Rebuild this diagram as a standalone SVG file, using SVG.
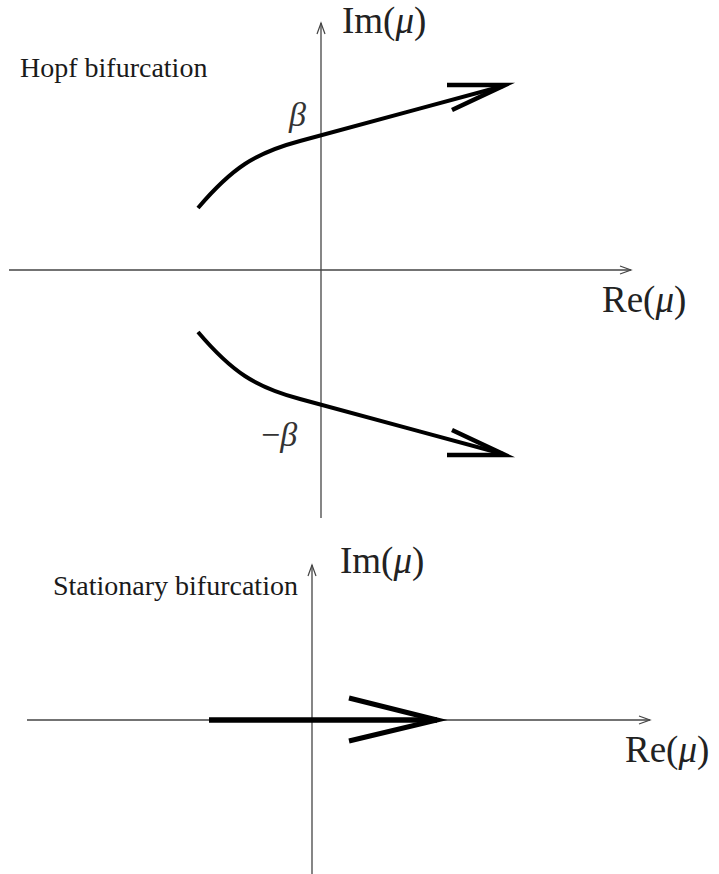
<svg xmlns="http://www.w3.org/2000/svg" width="719" height="874" viewBox="0 0 719 874">
<style>
.axis{stroke:#444;stroke-width:1.3;fill:none}
.curve{stroke:#000;stroke-width:4;fill:none;stroke-linecap:butt}
.head{stroke:#000;stroke-width:4.5;fill:none;stroke-linejoin:miter;stroke-miterlimit:10}
text{font-family:'Liberation Serif','Times New Roman','DejaVu Serif',serif}
.lbl{fill:#1a1a1a}
.math{fill:#222;font-size:37px}
.greek{fill:#333;font-size:34px;font-style:italic}
</style>
<defs>
<marker id="ax" markerWidth="14" markerHeight="10" refX="12" refY="5" orient="auto" markerUnits="userSpaceOnUse">
<polyline points="1,1 12,5 1,9" fill="none" stroke="#444" stroke-width="1.2"/>
</marker>
</defs>
<g id="connectors">
<line class="axis" x1="321" y1="518" x2="321" y2="23" marker-end="url(#ax)"/>
<line class="axis" x1="9" y1="270" x2="631" y2="270" marker-end="url(#ax)"/>
<line class="axis" x1="312" y1="874" x2="312" y2="565" marker-end="url(#ax)"/>
<line class="axis" x1="27" y1="720" x2="650" y2="720" marker-end="url(#ax)"/>
<path class="curve" d="M198,208 C232,168 255,153 300,141 S440,103 503,86"/>
<polyline class="head" points="447,85 505,85 452,110"/>
<path class="curve" d="M198,332 C232,372 255,387 300,399 S440,437 503,454"/>
<polyline class="head" points="447,455 505,455 452,430"/>
<line x1="209" y1="720" x2="437" y2="720" stroke="#000" stroke-width="5.5"/>
<polyline points="349,698 437,720 349,741" fill="none" stroke="#000" stroke-width="5" stroke-linejoin="miter" stroke-miterlimit="10"/>
</g>
<g id="hopf-title"><text class="lbl" x="20" y="77" font-size="28" font-family="Liberation Serif, serif">Hopf bifurcation</text></g>
<g id="im-top"><text class="math" x="342" y="33" font-family="Liberation Serif, serif">Im(<tspan font-style="italic">μ</tspan>)</text></g>
<g id="re-top"><text class="math" x="602" y="312" font-family="Liberation Serif, serif">Re(<tspan font-style="italic">μ</tspan>)</text></g>
<g id="beta"><text class="greek" x="289" y="126" font-family="Liberation Serif, serif">β</text></g>
<g id="minus-beta"><text class="greek" x="261" y="446" font-family="Liberation Serif, serif"><tspan font-style="normal">−</tspan>β</text></g>
<g id="stationary-title"><text class="lbl" x="53" y="595" font-size="28" font-family="Liberation Serif, serif">Stationary bifurcation</text></g>
<g id="im-bottom"><text class="math" x="340" y="573" font-family="Liberation Serif, serif">Im(<tspan font-style="italic">μ</tspan>)</text></g>
<g id="re-bottom"><text class="math" x="625" y="762" font-family="Liberation Serif, serif">Re(<tspan font-style="italic">μ</tspan>)</text></g>
</svg>
